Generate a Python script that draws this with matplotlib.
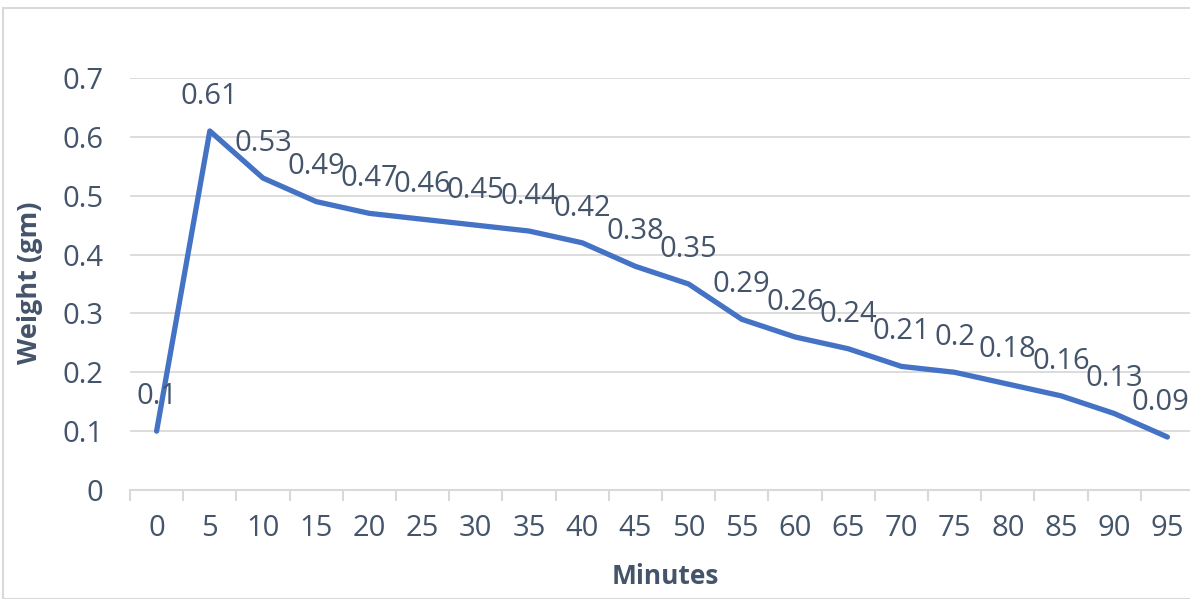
import matplotlib.pyplot as plt
from matplotlib.patches import Rectangle

# data
minutes = [0, 5, 10, 15, 20, 25, 30, 35, 40, 45, 50, 55, 60, 65, 70, 75, 80, 85, 90, 95]
weight = [0.1, 0.61, 0.53, 0.49, 0.47, 0.46, 0.45, 0.44, 0.42, 0.38, 0.35,
          0.29, 0.26, 0.24, 0.21, 0.2, 0.18, 0.16, 0.13, 0.09]
y_ticks = [0, 0.1, 0.2, 0.3, 0.4, 0.5, 0.6, 0.7]

plt.rcParams['font.family'] = ['Open Sans', 'DejaVu Sans']
text_col = '#44546A'
grid_col = '#D9D9D9'
fs = 21

fig = plt.figure(figsize=(11.9, 5.99), dpi=100)

# light frame around the chart area
fig.patches.append(Rectangle((3 / 1190, 0), 1.2, (599 - 8) / 599,
                             transform=fig.transFigure, fill=False,
                             edgecolor='#D9D9D9', linewidth=1.5))

ax = fig.add_axes([130 / 1190, 109 / 599, 1064 / 1190, 412 / 599])
x = list(range(len(minutes)))
ax.plot(x, weight, color='#4472C4', linewidth=3.8, solid_capstyle='round',
        solid_joinstyle='round', zorder=3)

for xi, yi in zip(x, weight):
    # last label is nudged left so it stays inside the chart, as Excel does
    dx = -5 if xi == x[-1] else 0
    ax.annotate(f'{yi:g}', (xi, yi), xytext=(dx, 25), textcoords='offset points',
                ha='center', va='center', fontsize=fs, color=text_col)

ax.set_xlim(-0.5, len(x) - 0.5)
ax.set_ylim(0, 0.7)
ax.set_yticks(y_ticks)
ax.set_yticklabels([f'{v:g}' for v in y_ticks])
ax.set_xticks(x)
ax.set_xticklabels([str(m) for m in minutes])
ax.set_xticks([i - 0.5 for i in range(len(x) + 1)], minor=True)

ax.grid(axis='y', color=grid_col, linewidth=1.3)
ax.set_axisbelow(True)
for s in ['top', 'right', 'left']:
    ax.spines[s].set_visible(False)
ax.spines['bottom'].set_color(grid_col)
ax.spines['bottom'].set_linewidth(1.5)

ax.tick_params(axis='y', length=0, pad=19, labelsize=fs, labelcolor=text_col)
ax.tick_params(axis='x', which='major', length=0, pad=17, labelsize=fs,
               labelcolor=text_col)
ax.tick_params(axis='x', which='minor', length=8, width=1.5, color=grid_col)

fig.text(30 / 1190, 1 - 283 / 599, 'Weight (gm)', rotation=90, ha='center',
         va='center', fontsize=19.5, fontweight='bold', color=text_col)
fig.text(665 / 1190, 1 - 577 / 599, 'Minutes', ha='center', va='center',
         fontsize=19, fontweight='bold', color=text_col)

fig.savefig('out.png', dpi=100)
